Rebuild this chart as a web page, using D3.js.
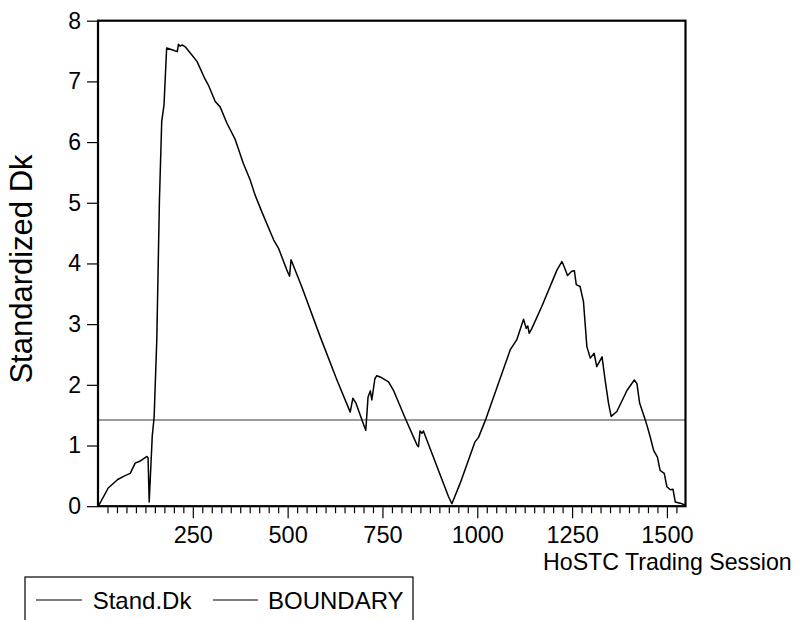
<!DOCTYPE html>
<html>
<head>
<meta charset="utf-8">
<script src="https://cdn.jsdelivr.net/npm/d3@7"></script>
<style>
  html, body { margin: 0; padding: 0; background: #fff; }
  svg { display: block; }
  text { font-family: "Liberation Sans", Arial, sans-serif; fill: #000; }
</style>
</head>
<body>
<svg id="chart" width="809" height="620"></svg>
<script>
// ---- data ----
const sessions = [1,27,52,70,85,98,110,129,132,135,143,148,155,162,168,174,181,195,209,212,217,222,230,247,261,282,291,309,322,340,362,383,401,414,432,463,476,498,505,509,537,586,630,665,672,680,700,706,712,718,722,730,735,744,766,779,810,841,845,849,854,858,867,924,933,955,994,1003,1021,1087,1104,1122,1129,1133,1137,1144,1170,1210,1223,1227,1238,1249,1256,1261,1271,1280,1289,1298,1308,1315,1329,1337,1346,1353,1368,1395,1414,1421,1428,1443,1447,1456,1465,1475,1482,1493,1500,1509,1516,1522,1535,1548];
const standDk = [0.00,0.30,0.44,0.50,0.54,0.71,0.74,0.82,0.80,0.07,1.15,1.47,2.74,5.05,6.34,6.61,7.55,7.52,7.49,7.61,7.58,7.60,7.57,7.44,7.33,7.04,6.94,6.67,6.58,6.31,6.04,5.65,5.38,5.13,4.85,4.39,4.25,3.89,3.79,4.06,3.62,2.79,2.08,1.55,1.78,1.70,1.35,1.25,1.80,1.90,1.75,2.10,2.15,2.13,2.05,1.91,1.45,1.01,0.98,1.24,1.20,1.24,1.09,0.16,0.04,0.38,1.06,1.13,1.41,2.58,2.74,3.08,2.93,2.97,2.85,2.93,3.29,3.89,4.03,3.98,3.80,3.87,3.88,3.65,3.62,3.37,2.63,2.44,2.52,2.30,2.46,2.08,1.70,1.48,1.56,1.91,2.08,2.02,1.70,1.42,1.34,1.14,0.92,0.81,0.59,0.54,0.32,0.27,0.28,0.07,0.05,0.02];
const boundaryValue = 1.42;
const xDomain = [0, 1549];
const yDomain = [0, 8];
const xMajorTicks = [250, 500, 750, 1000, 1250, 1500];
const yTicks = [0, 1, 2, 3, 4, 5, 6, 7, 8];
const seriesNames = ["Stand.Dk", "BOUNDARY"];
const yLabel = "Standardized Dk";
const xLabel = "HoSTC Trading Session";

// ---- layout ----
const svg = d3.select("#chart");
const pL = 98, pR = 685.5, pT = 20.7, pB = 506.2;
const x = d3.scaleLinear().domain(xDomain).range([pL, pR]);
const y = d3.scaleLinear().domain(yDomain).range([pB, pT]);

// boundary line
svg.append("line")
  .attr("x1", x(xDomain[0])).attr("x2", x(xDomain[1]))
  .attr("y1", y(boundaryValue)).attr("y2", y(boundaryValue))
  .attr("stroke", "#7a7a7a").attr("stroke-width", 1.5);

// series line
const pts = sessions.map((s, i) => [s, standDk[i]]);
svg.append("path")
  .datum(pts)
  .attr("fill", "none")
  .attr("stroke", "#000")
  .attr("stroke-width", 1.5)
  .attr("stroke-linejoin", "round")
  .attr("d", d3.line().x(d => x(d[0])).y(d => y(d[1])));

// frame
svg.append("rect")
  .attr("x", pL).attr("y", pT)
  .attr("width", pR - pL).attr("height", pB - pT)
  .attr("fill", "none").attr("stroke", "#000").attr("stroke-width", 2.2);

// x axis (minor + major ticks)
const minorTicks = d3.range(25, xDomain[1], 25).filter(v => !xMajorTicks.includes(v));
const xMinor = d3.axisBottom(x).tickValues(minorTicks).tickSize(6).tickFormat("");
const gxm = svg.append("g").attr("transform", `translate(0,${pB + 1})`).call(xMinor);
gxm.select(".domain").remove();
gxm.selectAll("line").attr("stroke-width", 1.2);

const xAxis = d3.axisBottom(x).tickValues(xMajorTicks).tickSize(11).tickPadding(8).tickFormat(d3.format("d"));
const gx = svg.append("g").attr("transform", `translate(0,${pB + 1})`).call(xAxis);
gx.select(".domain").remove();
gx.selectAll("line").attr("stroke-width", 1.2);
gx.selectAll("text").attr("font-size", 23.5).attr("font-family", "Liberation Sans, Arial, sans-serif");

// y axis
const yAxis = d3.axisLeft(y).tickValues(yTicks).tickSize(10).tickPadding(6).tickFormat(d3.format("d"));
const gy = svg.append("g").attr("transform", `translate(${pL - 1},0)`).call(yAxis);
gy.select(".domain").remove();
gy.selectAll("line").attr("stroke-width", 1.2);
gy.selectAll("text").attr("font-size", 23).attr("font-family", "Liberation Sans, Arial, sans-serif");

// axis labels
svg.append("text")
  .attr("transform", `translate(32,${(148 + 390) / 2}) rotate(-90)`)
  .attr("text-anchor", "middle")
  .attr("font-size", 31)
  .text(yLabel);

svg.append("text")
  .attr("x", 543).attr("y", 570)
  .attr("font-size", 23.2)
  .text(xLabel);

// legend
svg.append("rect")
  .attr("x", 25).attr("y", 577).attr("width", 388).attr("height", 60)
  .attr("fill", "none").attr("stroke", "#000").attr("stroke-width", 1.2);
const legendItems = [
  { name: seriesNames[0], x1: 36, x2: 82, tx: 92.7, color: "#000" },
  { name: seriesNames[1], x1: 213, x2: 258, tx: 268, color: "#000" }
];
legendItems.forEach(it => {
  svg.append("line").attr("x1", it.x1).attr("x2", it.x2).attr("y1", 600).attr("y2", 600)
    .attr("stroke", it.color).attr("stroke-width", 1.2);
  svg.append("text").attr("x", it.tx).attr("y", 609).attr("font-size", 24).text(it.name);
});
</script>
</body>
</html>
